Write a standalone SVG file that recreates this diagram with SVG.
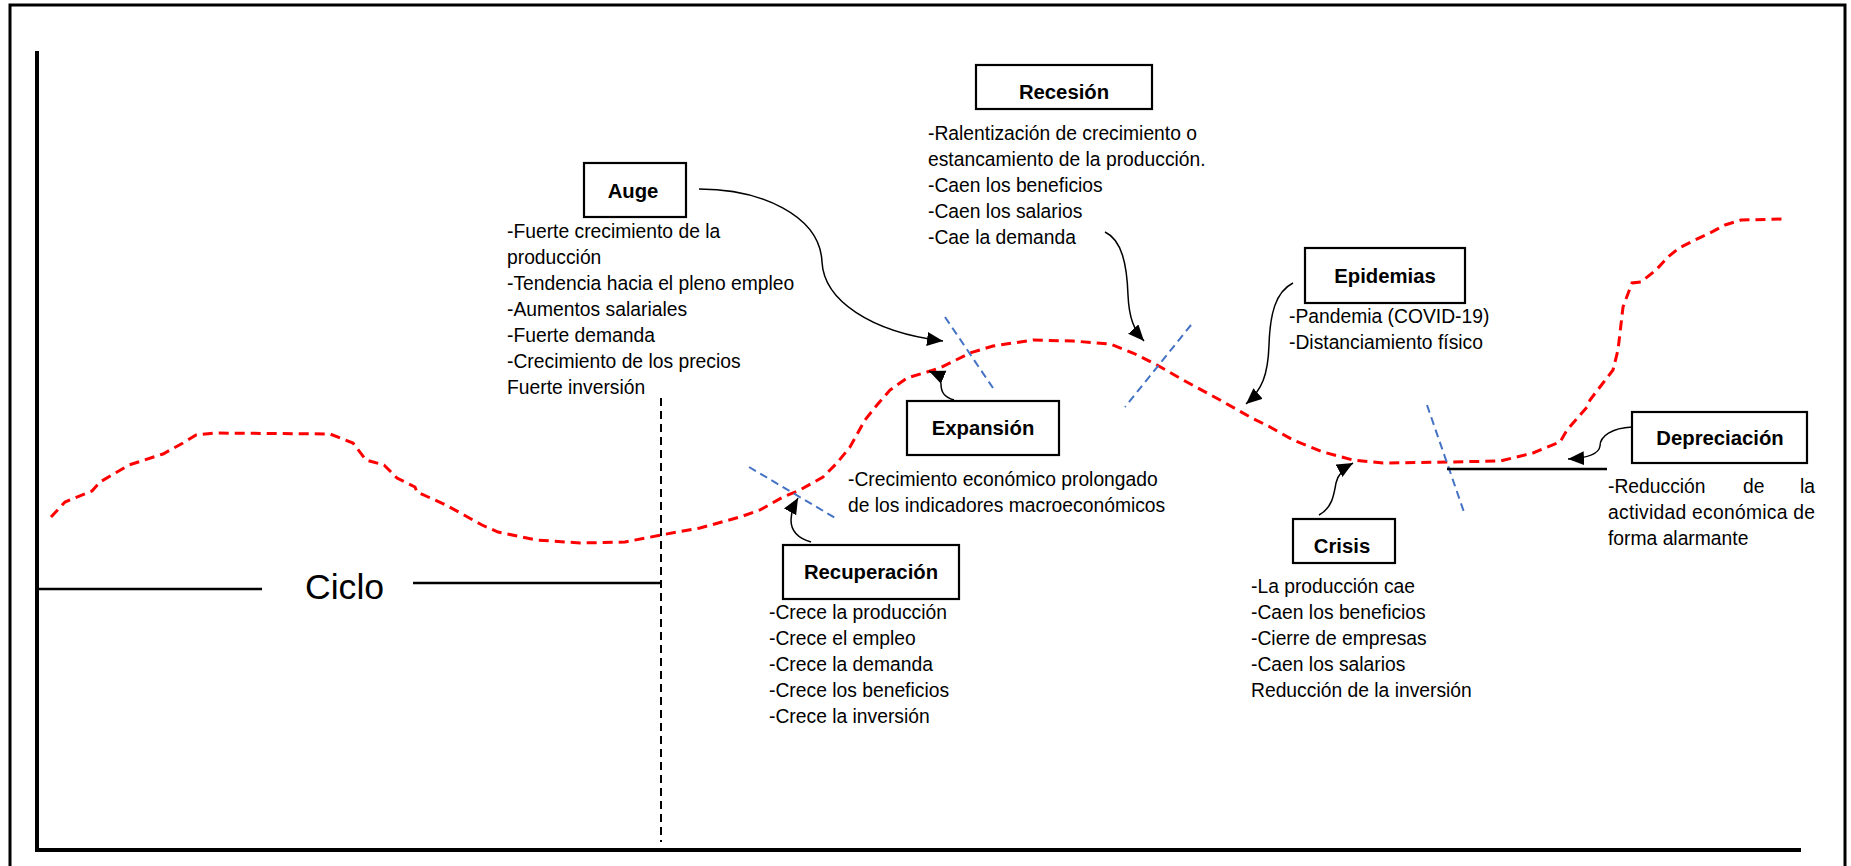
<svg xmlns="http://www.w3.org/2000/svg" width="1851" height="866" viewBox="0 0 1851 866">
<style>
.t{font-family:"Liberation Sans",Arial,sans-serif;font-size:19.3px;fill:#000}
.b{font-family:"Liberation Sans",Arial,sans-serif;font-size:20.3px;font-weight:bold;fill:#000;text-anchor:middle}
.box{fill:#fff;stroke:#000;stroke-width:2.2}
.con{fill:none;stroke:#000;stroke-width:1.5}
.blue{stroke:#4472C4;stroke-width:2;stroke-dasharray:8 5;fill:none}
.red{fill:none;stroke:#FF0000;stroke-width:3;stroke-dasharray:10 6}
</style>
<defs>
<marker id="ah" markerUnits="userSpaceOnUse" markerWidth="18" markerHeight="16" refX="16" refY="7" orient="auto">
<path d="M0,0 L16,7 L0,14 z" fill="#000"/>
</marker>
</defs>
<rect x="0" y="0" width="1851" height="866" fill="#fff"/>
<rect x="10" y="5" width="1835" height="880" fill="none" stroke="#000" stroke-width="3"/>
<g id="axes">
<line x1="37" y1="51" x2="37" y2="852" stroke="#000" stroke-width="4"/>
<line x1="35" y1="850" x2="1801" y2="850" stroke="#000" stroke-width="4"/>
<line x1="661" y1="398" x2="661" y2="842" stroke="#000" stroke-width="2" stroke-dasharray="8 5"/>
</g>
<g id="ciclo">
<line x1="37" y1="589" x2="262" y2="589" stroke="#000" stroke-width="2.5"/>
<line x1="413" y1="583" x2="661" y2="583" stroke="#000" stroke-width="2.5"/>
<text x="305" y="599" style="font-family:'Liberation Sans',Arial,sans-serif;font-size:35.6px">Ciclo</text>
</g>
<g id="curve">
<path class="red" d="M51,517 L65,502 L92,491 L100,482 L129,465 L163,454 L183,443 L196,435 L214,433 L330,434 L353,443 L366,460 L384,465 L397,478 L415,487 L417,492 L446,505 L464,515 L482,525 L498,532 L536,540 L580,543 L625,542 L661,535 L700,528 L740,517 L760,510 L783,497 L800,490 L823,477 L837,463 L850,447 L865,420 L877,405 L890,390 L907,378 L927,372 L940,368 L970,353 L993,346 L1033,340 L1073,341 L1110,344 L1133,353 L1157,365 L1183,380 L1220,400 L1250,417 L1270,427 L1293,440 L1323,452 L1353,460 L1383,463 L1447,462 L1500,461 L1533,453 L1560,442 L1567,430 L1587,407 L1590,400 L1603,383 L1613,370 L1618,350 L1620,333 L1623,307 L1632,283 L1641,282 L1656,270 L1668,257 L1679,248 L1695,240 L1710,233 L1725,225 L1741,220 L1785,219"/>
</g>
<g id="markers">
<line class="blue" x1="749" y1="467" x2="837" y2="519"/>
<line class="blue" x1="945" y1="317" x2="993" y2="388"/>
<line class="blue" x1="1191" y1="325" x2="1125" y2="407"/>
<line class="blue" x1="1427" y1="405" x2="1465" y2="515"/>
<line x1="1447" y1="469" x2="1607" y2="469" stroke="#000" stroke-width="2.5"/>
</g>
<g id="connectors">
<path class="con" marker-end="url(#ah)" d="M699,189 C760,189 820,215 822,262 C824,300 870,332 943,341"/>
<path class="con" marker-end="url(#ah)" d="M1105,232 C1122,240 1127,265 1128,295 C1129,318 1134,330 1144,341"/>
<path class="con" marker-end="url(#ah)" d="M1293,283 C1275,292 1270,315 1269,345 C1268,375 1262,390 1246,404"/>
<path class="con" marker-end="url(#ah)" d="M1319,515 C1332,508 1334,495 1336,483 C1338,474 1344,468 1353,463"/>
<path class="con" marker-end="url(#ah)" d="M1632,427 C1612,428 1600,436 1600,446 C1599,454 1588,458 1568,459"/>
<path class="con" marker-end="url(#ah)" d="M954,400 C944,397 941,392 941,384 C941,379 936,374 929,371"/>
<path class="con" marker-end="url(#ah)" d="M811,542 C797,538 791,530 791,520 C791,512 794,505 798,498"/>
</g>
<g id="auge">
<rect class="box" x="584" y="163" width="102" height="54"/>
<text class="b" x="633" y="198">Auge</text>
<text class="t" x="507" y="238">-Fuerte crecimiento de la</text>
<text class="t" x="507" y="264">producción</text>
<text class="t" x="507" y="290">-Tendencia hacia el pleno empleo</text>
<text class="t" x="507" y="316">-Aumentos salariales</text>
<text class="t" x="507" y="342">-Fuerte demanda</text>
<text class="t" x="507" y="368">-Crecimiento de los precios</text>
<text class="t" x="507" y="394">Fuerte inversión</text>
</g>
<g id="recesion">
<rect class="box" x="976" y="65" width="176" height="44"/>
<text class="b" x="1064" y="99">Recesión</text>
<text class="t" x="928" y="140">-Ralentización de crecimiento o</text>
<text class="t" x="928" y="166">estancamiento de la producción.</text>
<text class="t" x="928" y="192">-Caen los beneficios</text>
<text class="t" x="928" y="218">-Caen los salarios</text>
<text class="t" x="928" y="244">-Cae la demanda</text>
</g>
<g id="epidemias">
<rect class="box" x="1305" y="248" width="160" height="55"/>
<text class="b" x="1385" y="283">Epidemias</text>
<text class="t" x="1289" y="323">-Pandemia (COVID-19)</text>
<text class="t" x="1289" y="349">-Distanciamiento físico</text>
</g>
<g id="expansion">
<rect class="box" x="907" y="401" width="152" height="54"/>
<text class="b" x="983" y="435">Expansión</text>
<text class="t" x="848" y="486">-Crecimiento económico prolongado</text>
<text class="t" x="848" y="512">de los indicadores macroeconómicos</text>
</g>
<g id="recuperacion">
<rect class="box" x="783" y="545" width="176" height="54"/>
<text class="b" x="871" y="579">Recuperación</text>
<text class="t" x="769" y="619">-Crece la producción</text>
<text class="t" x="769" y="645">-Crece el empleo</text>
<text class="t" x="769" y="671">-Crece la demanda</text>
<text class="t" x="769" y="697">-Crece los beneficios</text>
<text class="t" x="769" y="723">-Crece la inversión</text>
</g>
<g id="crisis">
<rect class="box" x="1293" y="519" width="102" height="44"/>
<text class="b" x="1342" y="553">Crisis</text>
<text class="t" x="1251" y="593">-La producción cae</text>
<text class="t" x="1251" y="619">-Caen los beneficios</text>
<text class="t" x="1251" y="645">-Cierre de empresas</text>
<text class="t" x="1251" y="671">-Caen los salarios</text>
<text class="t" x="1251" y="697">Reducción de la inversión</text>
</g>
<g id="depreciacion">
<rect class="box" x="1632" y="412" width="175" height="51"/>
<text class="b" x="1720" y="445">Depreciación</text>
<text class="t" x="1608" y="493">-Reducción</text>
<text class="t" x="1743" y="493">de</text>
<text class="t" x="1815" y="493" text-anchor="end">la</text>
<text class="t" x="1608" y="519" textLength="207" lengthAdjust="spacing">actividad económica de</text>
<text class="t" x="1608" y="545">forma alarmante</text>
</g>
</svg>
